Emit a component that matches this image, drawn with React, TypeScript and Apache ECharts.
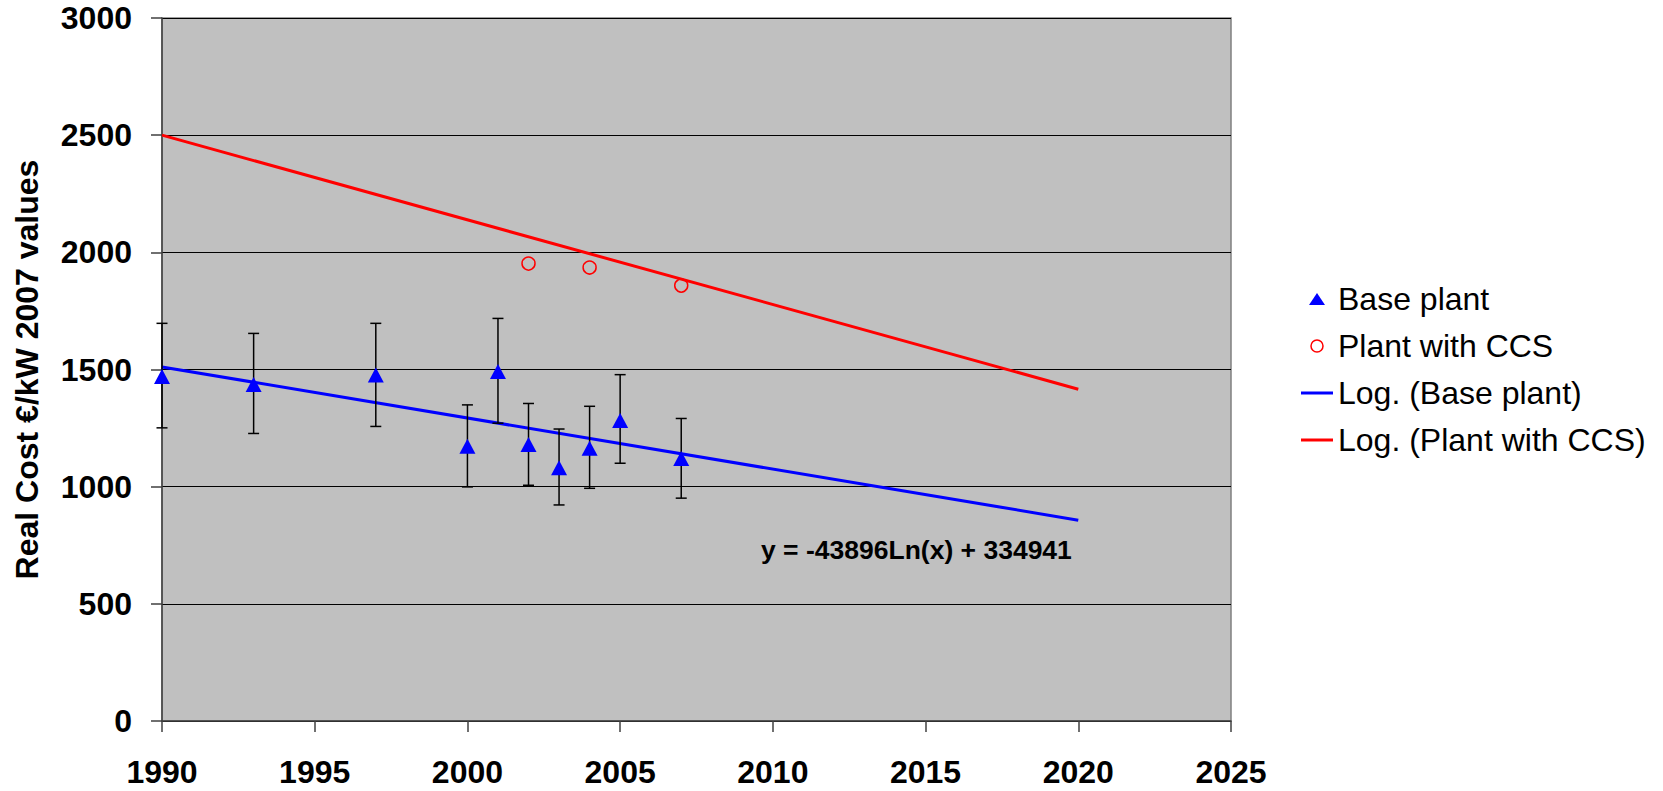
import React, { useEffect, useRef } from "react";
import * as echarts from "echarts";

const years = [1990, 1993, 1997, 2000, 2001, 2002, 2003, 2004, 2005, 2007];
const baseCost = [1470, 1436, 1477, 1173, 1491, 1180, 1081, 1164, 1282, 1120];
const baseLow = [1251, 1227, 1257, 999, 1271, 1006, 922, 993, 1100, 951];
const baseHigh = [1697, 1654, 1697, 1349, 1718, 1355, 1246, 1343, 1478, 1291];

const ccsYears = [2002, 2004, 2007];
const ccsCost = [1952, 1935, 1858];

const trendYears = [1990, 2020];
const baseTrend = [1511, 857];
const ccsTrend = [2500, 1416];

const equationText = "y = -43896Ln(x) + 334941";

const FONT = "'Liberation Sans', Arial, sans-serif";

export default function App() {
  const ref = useRef<HTMLDivElement>(null);

  useEffect(() => {
    if (!ref.current) return;
    const chart = echarts.init(ref.current, null, { renderer: "svg" });

    const barStyle = { stroke: "#000", lineWidth: 1.5 };

    chart.setOption({
      animation: false,
      backgroundColor: "#ffffff",
      textStyle: { fontFamily: FONT },
      grid: {
        left: 162,
        right: 432,
        top: 18,
        bottom: 70,
        show: true,
        backgroundColor: "#C0C0C0",
        borderColor: "#808080",
        borderWidth: 1.5,
      },
      xAxis: {
        type: "value",
        min: 1990,
        max: 2025,
        interval: 5,
        axisLine: { show: true, lineStyle: { color: "#404040", width: 1.5 } },
        axisTick: { show: true, length: 11, lineStyle: { color: "#404040", width: 1.5 } },
        axisLabel: {
          margin: 37,
          fontSize: 32,
          lineHeight: 28,
          fontWeight: "bold",
          color: "#000",
          fontFamily: FONT,
          formatter: (v: number) => String(v),
        },
        splitLine: { show: false },
      },
      yAxis: {
        type: "value",
        min: 0,
        max: 3000,
        interval: 500,
        name: "Real Cost €/kW 2007 values",
        nameLocation: "middle",
        nameRotate: 90,
        nameGap: 119,
        nameTextStyle: {
          fontSize: 32,
          fontWeight: "bold",
          color: "#000",
          fontFamily: FONT,
        },
        axisLine: { show: true, lineStyle: { color: "#404040", width: 1.5 } },
        axisTick: { show: true, length: 11, lineStyle: { color: "#404040", width: 1.5 } },
        axisLabel: {
          margin: 30,
          fontSize: 32,
          lineHeight: 28,
          fontWeight: "bold",
          color: "#000",
          fontFamily: FONT,
          formatter: (v: number) => String(v),
        },
        splitLine: { show: true, lineStyle: { color: "#000", width: 1.2 } },
      },
      legend: {
        orient: "vertical",
        left: 1296,
        top: 278,
        itemWidth: 32,
        itemHeight: 12,
        itemGap: 15,
        selectedMode: false,
        textStyle: {
          fontSize: 32,
          lineHeight: 32,
          color: "#000",
          fontFamily: FONT,
        },
        data: [
          {
            name: "Base plant",
            icon: "path://M8,0L16,12L0,12Z",
            itemStyle: { color: "#0000FF" },
          },
          {
            name: "Plant with CCS",
            icon: "path://M6,0A6,6,0,1,1,6,12A6,6,0,1,1,6,0Z",
            itemStyle: { color: "rgba(0,0,0,0)", borderColor: "#FF0000", borderWidth: 1.5 },
          },
          {
            name: "Log. (Base plant)",
            icon: "path://M0,0L32,0L32,3L0,3Z",
            itemStyle: { color: "#0000FF" },
          },
          {
            name: "Log. (Plant with CCS)",
            icon: "path://M0,0L32,0L32,3L0,3Z",
            itemStyle: { color: "#FF0000" },
          },
        ],
      },
      graphic: [
        {
          type: "text",
          left: 761,
          top: 536,
          z: 100,
          style: {
            text: equationText,
            fontSize: 26.5,
            fontWeight: "bold",
            fill: "#000",
            fontFamily: FONT,
          },
        },
      ],
      series: [
        {
          name: "Log. (Base plant)",
          type: "line",
          data: trendYears.map((x, i) => [x, baseTrend[i]]),
          symbol: "none",
          lineStyle: { color: "#0000FF", width: 3 },
          itemStyle: { color: "#0000FF" },
          z: 2,
        },
        {
          name: "Log. (Plant with CCS)",
          type: "line",
          data: trendYears.map((x, i) => [x, ccsTrend[i]]),
          symbol: "none",
          lineStyle: { color: "#FF0000", width: 3 },
          itemStyle: { color: "#FF0000" },
          z: 2,
        },
        {
          name: "errors",
          type: "custom",
          z: 3,
          data: years.map((x, i) => [x, baseLow[i], baseHigh[i]]),
          encode: { x: 0, y: [1, 2] },
          renderItem: (params: any, api: any) => {
            const x = api.value(0);
            const lo = api.coord([x, api.value(1)]);
            const hi = api.coord([x, api.value(2)]);
            const hw = 5.5;
            return {
              type: "group",
              children: [
                { type: "line", shape: { x1: lo[0], y1: lo[1], x2: hi[0], y2: hi[1] }, style: barStyle },
                { type: "line", shape: { x1: lo[0] - hw, y1: lo[1], x2: lo[0] + hw, y2: lo[1] }, style: barStyle },
                { type: "line", shape: { x1: hi[0] - hw, y1: hi[1], x2: hi[0] + hw, y2: hi[1] }, style: barStyle },
              ],
            };
          },
        },
        {
          name: "Base plant",
          type: "scatter",
          data: years.map((x, i) => [x, baseCost[i]]),
          symbol: "triangle",
          symbolSize: [16, 15],
          itemStyle: { color: "#0000FF", opacity: 1 },
          z: 4,
        },
        {
          name: "Plant with CCS",
          type: "scatter",
          data: ccsYears.map((x, i) => [x, ccsCost[i]]),
          symbol: "circle",
          symbolSize: 13,
          itemStyle: { color: "rgba(0,0,0,0)", borderColor: "#FF0000", borderWidth: 1.5, opacity: 1 },
          z: 4,
        },
      ],
    });

    return () => chart.dispose();
  }, []);

  return (
    <div
      ref={ref}
      style={{ position: "fixed", left: 0, top: 0, width: "1663px", height: "791px" }}
    />
  );
}
